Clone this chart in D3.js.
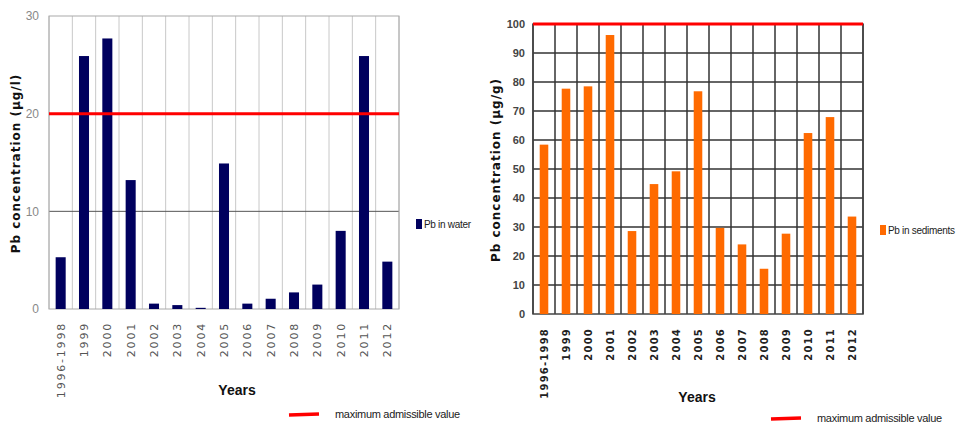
<!DOCTYPE html>
<html>
<head>
<meta charset="utf-8">
<script src="https://cdn.jsdelivr.net/npm/d3@7"></script>
<style>
  html, body { margin: 0; padding: 0; background: #fff; }
  svg { display: block; }
</style>
</head>
<body>
<svg id="chart" width="956" height="423"></svg>
<script>
// Sampling periods shared by both panels
const years = ["1996-1998", "1999", "2000", "2001", "2002", "2003", "2004", "2005",
               "2006", "2007", "2008", "2009", "2010", "2011", "2012"];

// Lead in water (µg/l)
const waterPb = [5.3, 25.9, 27.7, 13.2, 0.55, 0.4, 0.12, 14.9, 0.55, 1.05, 1.7, 2.5, 8.0, 25.9, 4.85];
const waterTicks = [0, 10, 20, 30];
const waterLimit = 20;

// Lead in sediments (µg/g)
const sedimentPb = [58.4, 77.7, 78.5, 96.2, 28.6, 44.8, 49.2, 76.8, 29.7, 24.0, 15.6, 27.7, 62.4, 67.9, 33.6];
const sedimentTicks = [0, 10, 20, 30, 40, 50, 60, 70, 80, 90, 100];
const sedimentLimit = 100;

const svg = d3.select("#chart");
const narrow = "'Liberation Sans Narrow', 'Arial Narrow', 'Liberation Sans', sans-serif";
const boldTitle = "'DejaVu Sans', sans-serif";

function panel(cfg) {
  const g = svg.append("g");
  const x = d3.scaleBand().domain(years).range([cfg.left, cfg.right]).padding(0);
  const y = d3.scaleLinear().domain([0, cfg.max]).range([cfg.bottom, cfg.top]);

  // vertical grid on category boundaries
  const bounds = years.map(d => x(d)).concat([cfg.right]);
  g.selectAll("line.vgrid").data(bounds).join("line")
    .attr("x1", d => d).attr("x2", d => d)
    .attr("y1", cfg.top).attr("y2", cfg.bottom)
    .attr("stroke", cfg.vGrid).attr("stroke-width", cfg.gridWidth);

  // horizontal grid
  g.selectAll("line.hgrid").data(cfg.ticks.filter(t => t > 0 && t < cfg.max)).join("line")
    .attr("x1", cfg.left).attr("x2", cfg.right)
    .attr("y1", d => y(d)).attr("y2", d => y(d))
    .attr("stroke", cfg.hGrid).attr("stroke-width", cfg.gridWidth);

  // frame
  g.append("rect")
    .attr("x", cfg.left).attr("y", cfg.top)
    .attr("width", cfg.right - cfg.left).attr("height", cfg.bottom - cfg.top)
    .attr("fill", "none").attr("stroke", cfg.frame).attr("stroke-width", cfg.gridWidth);

  // bars
  const bw = x.bandwidth() * cfg.barFrac;
  g.selectAll("rect.bar").data(cfg.values).join("rect")
    .attr("x", (d, i) => x(years[i]) + (x.bandwidth() - bw) / 2)
    .attr("y", d => y(d))
    .attr("width", bw)
    .attr("height", d => y(0) - y(d))
    .attr("fill", cfg.color);

  // limit line
  g.append("line")
    .attr("x1", cfg.left).attr("x2", cfg.right)
    .attr("y1", y(cfg.limit)).attr("y2", y(cfg.limit))
    .attr("stroke", "#ff0000").attr("stroke-width", 3);

  // y tick labels
  const yAxis = d3.axisLeft(y).tickValues(cfg.ticks).tickSize(0).tickPadding(cfg.tickPad);
  const ya = g.append("g").attr("transform", `translate(${cfg.left},0)`).call(yAxis);
  ya.select(".domain").remove();
  ya.selectAll("text")
    .attr("font-family", narrow).attr("font-size", cfg.tickSize)
    .attr("font-weight", cfg.tickWeight).attr("fill", cfg.tickColor);

  // x tick labels, rotated
  const xAxis = d3.axisBottom(x).tickSize(0).tickPadding(0);
  const xa = g.append("g").attr("transform", `translate(0,${cfg.bottom})`).call(xAxis);
  xa.select(".domain").remove();
  xa.selectAll("text")
    .attr("transform", `translate(0,${cfg.xLabelGap}) rotate(-90)`)
    .attr("text-anchor", "end").attr("dy", "0.35em").attr("y", 0)
    .attr("font-family", cfg.xFont).attr("font-size", cfg.xSize)
    .attr("font-weight", cfg.xWeight).attr("fill", cfg.xColor)
    .attr("letter-spacing", cfg.xSpacing);

  // axis titles
  g.append("text")
    .attr("transform", `translate(${cfg.yTitleX},${(cfg.top + cfg.bottom) / 2 + cfg.yTitleShift}) rotate(-90)`)
    .attr("text-anchor", "middle").attr("dy", "0.35em")
    .attr("font-family", boldTitle).attr("font-weight", "bold").attr("font-size", 12)
    .attr("letter-spacing", 1).attr("fill", "#111")
    .text(cfg.yTitle);

  g.append("text")
    .attr("x", (cfg.left + cfg.right) / 2 + cfg.yearsShift).attr("y", cfg.yearsY)
    .attr("text-anchor", "middle")
    .attr("font-family", narrow).attr("font-weight", "bold").attr("font-size", 14)
    .attr("fill", "#111").text("Years");

  // series legend
  g.append("rect")
    .attr("x", cfg.legX).attr("y", cfg.legY - 5)
    .attr("width", 6).attr("height", 10).attr("fill", cfg.color);
  g.append("text")
    .attr("x", cfg.legX + 8).attr("y", cfg.legY).attr("dy", "0.35em")
    .attr("font-family", narrow).attr("font-size", 10).attr("fill", "#222")
    .attr("letter-spacing", -0.3)
    .text(cfg.seriesName);

  // limit legend
  g.append("line")
    .attr("x1", cfg.limX).attr("x2", cfg.limX + 30)
    .attr("y1", cfg.limY).attr("y2", cfg.limY - 1)
    .attr("stroke", "#ff0000").attr("stroke-width", 3.5);
  g.append("text")
    .attr("x", cfg.limX + 46).attr("y", cfg.limY).attr("dy", "0.3em")
    .attr("font-family", narrow).attr("font-size", 11).attr("fill", "#222")
    .attr("letter-spacing", -0.3)
    .text("maximum admissible value");
}

panel({
  values: waterPb, max: 30, ticks: waterTicks, limit: waterLimit,
  left: 49, right: 399, top: 16, bottom: 309,
  color: "#00005e", barFrac: 0.43,
  vGrid: "#c8c8c8", hGrid: "#555", frame: "#aaa", gridWidth: 1,
  tickPad: 10, tickSize: 12, tickWeight: "normal", tickColor: "#888",
  xFont: "'DejaVu Sans', sans-serif", xSize: 11, xWeight: "normal", xColor: "#555", xSpacing: 1.8,
  xLabelGap: 13,
  yTitle: "Pb concentration (µg/l)", yTitleX: 16, yTitleShift: 1,
  yearsY: 395, yearsShift: 13,
  seriesName: "Pb in water", legX: 416, legY: 224,
  limX: 289, limY: 415
});

panel({
  values: sedimentPb, max: 100, ticks: sedimentTicks, limit: sedimentLimit,
  left: 533, right: 863, top: 24, bottom: 314,
  color: "#ff6a00", barFrac: 0.39,
  vGrid: "#333", hGrid: "#333", frame: "#444", gridWidth: 1.5,
  tickPad: 8, tickSize: 11, tickWeight: "bold", tickColor: "#444",
  xFont: "'DejaVu Sans', sans-serif", xSize: 10, xWeight: "bold", xColor: "#222", xSpacing: 1.2,
  xLabelGap: 14,
  yTitle: "Pb concentration (µg/g)", yTitleX: 496, yTitleShift: 1,
  yearsY: 402, yearsShift: -1,
  seriesName: "Pb in sediments", legX: 880, legY: 230,
  limX: 771, limY: 419
});
</script>
</body>
</html>
